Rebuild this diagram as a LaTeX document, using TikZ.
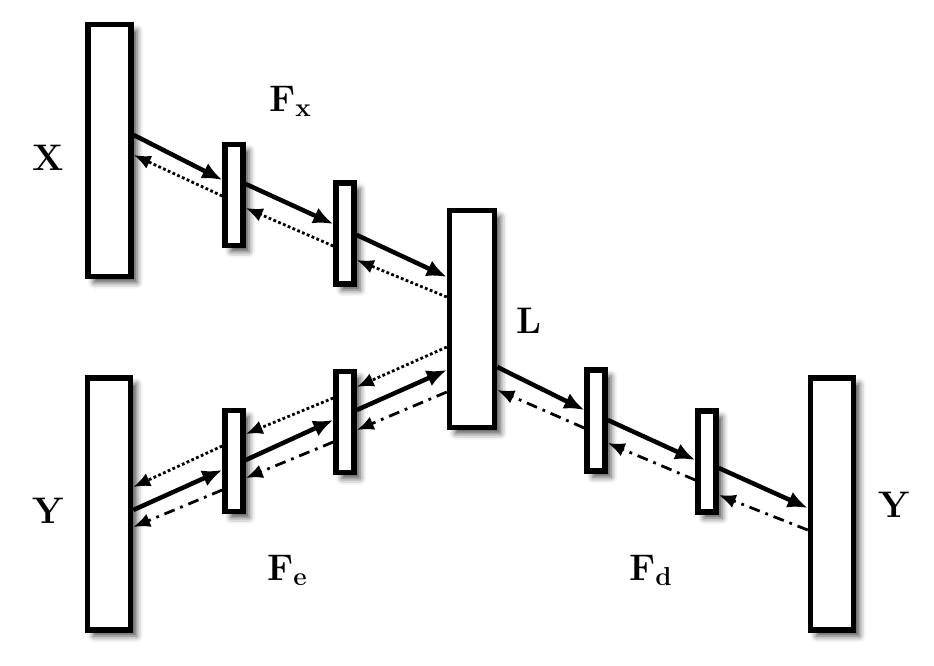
\documentclass[tikz,border=0pt]{standalone}
\usetikzlibrary{arrows.meta,shadows.blur}
\newcommand\lblsub[1]{\raisebox{-5pt}{\fontsize{26}{28}\selectfont #1}}
\begin{document}
\begin{tikzpicture}[x=1pt,y=-1pt,
  box/.style={draw,line width=5.5pt,fill=white,inner sep=0pt,
    blur shadow={shadow xshift=6pt,shadow yshift=-6pt,shadow blur radius=6pt,shadow opacity=70}},
  bigbox/.style={box,minimum width=43pt,minimum height=252pt},
  lbox/.style={box,minimum width=45pt,minimum height=217pt},
  sbox/.style={box,minimum width=18pt,minimum height=101pt},
  fwd/.style={line width=4.5pt,-{Latex[length=20pt,width=17pt]}},
  dotback/.style={line width=2.8pt,dash pattern=on 2.8pt off 2.4pt,-{Latex[length=17pt,width=14pt]}},
  dashback/.style={line width=2.8pt,dash pattern=on 11pt off 6pt on 2.8pt off 6pt,-{Latex[length=17pt,width=14pt]}},
  lbl/.style={inner sep=0pt,anchor=base west,font=\fontsize{37}{40}\selectfont\bfseries}]
\useasboundingbox (0,0) rectangle (934,666);
% boxes
\node[bigbox] (X) at (109.5,150.5) {};
\node[bigbox] (Yl) at (109,504) {};
\node[lbox] (L) at (472,319) {};
\node[bigbox] (Yr) at (832,504) {};
\node[sbox] (t1) at (234,195) {};
\node[sbox] (t2) at (345,233.5) {};
\node[sbox] (b1) at (234,461) {};
\node[sbox] (b2) at (345,422) {};
\node[sbox] (r1) at (596,420.5) {};
\node[sbox] (r2) at (707,461.5) {};
% labels
\node[lbl] (lx) at (32,170) {X};
\node[lbl] (lyl) at (32,523) {Y};
\node[lbl] (lyr) at (878,517) {Y};
\node[lbl] (ll) at (516,333) {L};
\node[lbl] (lfx) at (269,112) {F\lblsub{x}};
\node[lbl] (lfe) at (267,580) {F\lblsub{e}};
\node[lbl] (lfd) at (629,580) {F\lblsub{d}};
% top chain
\draw[fwd] (X.east |- 0,135) -- (t1.west |- 0,180);
\draw[dotback] (t1.west |- 0,196) -- (X.east |- 0,155);
\draw[fwd] (t1.east |- 0,184) -- (t2.west |- 0,224);
\draw[dotback] (t2.west |- 0,246) -- (t1.east |- 0,208);
\draw[fwd] (t2.east |- 0,235) -- (L.west |- 0,277);
\draw[dotback] (L.west |- 0,297) -- (t2.east |- 0,260);
% bottom chain
\draw[fwd] (Yl.east |- 0,510) -- (b1.west |- 0,470);
\draw[dotback] (b1.west |- 0,446) -- (Yl.east |- 0,487);
\draw[dashback] (b1.west |- 0,490) -- (Yl.east |- 0,527);
\draw[fwd] (b1.east |- 0,460) -- (b2.west |- 0,420);
\draw[dotback] (b2.west |- 0,398) -- (b1.east |- 0,434);
\draw[dashback] (b2.west |- 0,442) -- (b1.east |- 0,478);
\draw[fwd] (b2.east |- 0,410) -- (L.west |- 0,370);
\draw[dotback] (L.west |- 0,347) -- (b2.east |- 0,387);
\draw[dashback] (L.west |- 0,392) -- (b2.east |- 0,430);
% right chain
\draw[fwd] (L.east |- 0,367) -- (r1.west |- 0,410);
\draw[dashback] (r1.west |- 0,428) -- (L.east |- 0,390);
\draw[fwd] (r1.east |- 0,420) -- (r2.west |- 0,460);
\draw[dashback] (r2.west |- 0,480) -- (r1.east |- 0,443);
\draw[fwd] (r2.east |- 0,468) -- (Yr.west |- 0,508);
\draw[dashback] (Yr.west |- 0,530) -- (r2.east |- 0,495);
\end{tikzpicture}
\end{document}
